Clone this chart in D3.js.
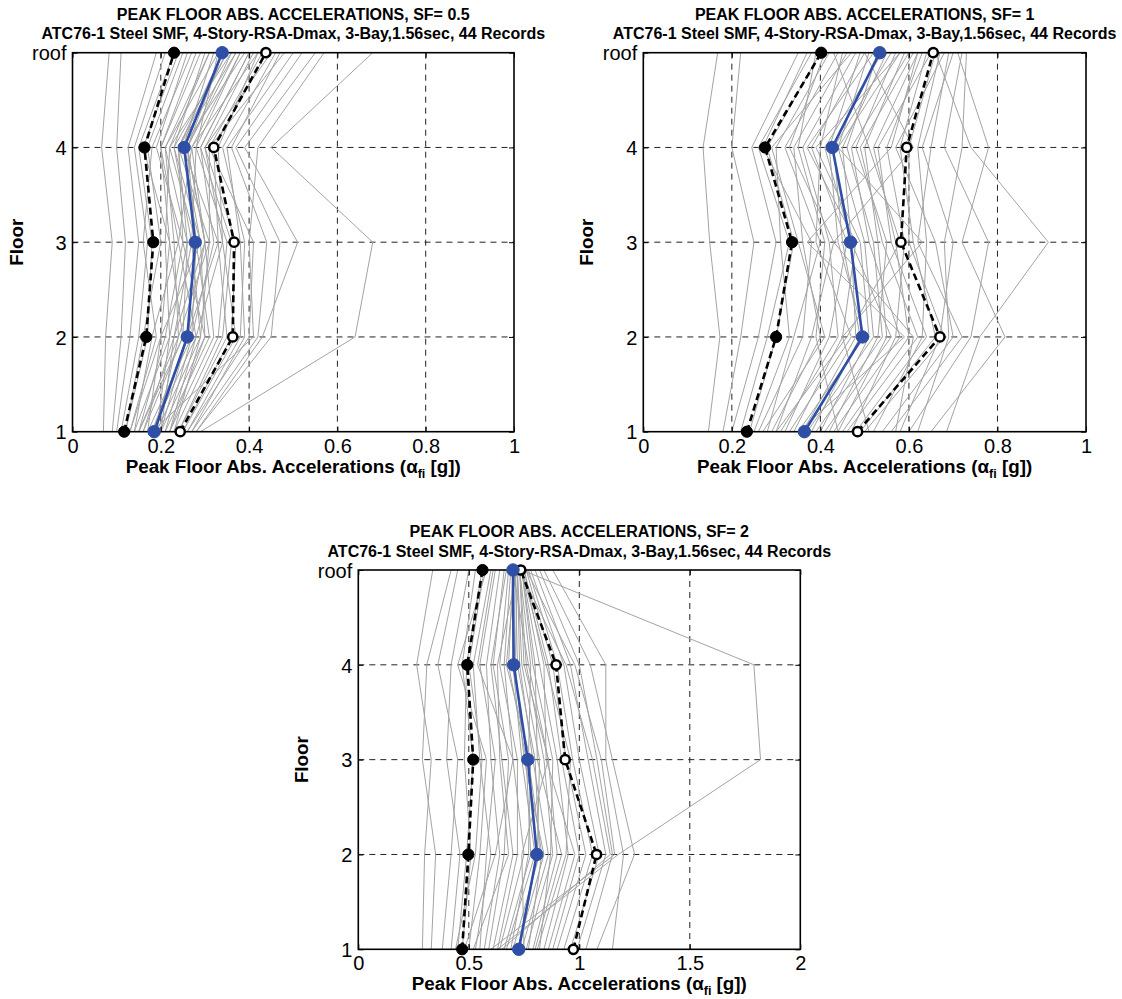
<!doctype html>
<html lang="en">
<head>
<meta charset="utf-8">
<title>Peak floor abs. accelerations</title>
<style>
  body { margin: 0; background: #fff; }
  svg { display: block; font-family: "Liberation Sans", Arial, Helvetica, sans-serif; }
  .title { font-weight: bold; font-size: 16px; text-anchor: middle; }
  .tick text { font-size: 20px; fill: #000; }
  .xlabel, .ylabel { font-weight: bold; font-size: 18.8px; }
</style>
</head>
<body>
<svg id="chart" width="1122" height="999"></svg>
<script src="https://cdn.jsdelivr.net/npm/d3@7"></script>
<script>
// floors, bottom to top
const floors = ["1", "2", "3", "4", "roof"];
const gridFloors = ["2", "3", "4"];

const titles = [
  "PEAK FLOOR ABS. ACCELERATIONS, SF= 0.5",
  "PEAK FLOOR ABS. ACCELERATIONS, SF= 1",
  "PEAK FLOOR ABS. ACCELERATIONS, SF= 2"
];
const subtitle = "ATC76-1 Steel SMF, 4-Story-RSA-Dmax, 3-Bay,1.56sec, 44 Records";

const xTicksSmall = [0, 0.2, 0.4, 0.6, 0.8, 1];
const xTicksLarge = [0, 0.5, 1, 1.5, 2];

// one row per record: [floor 1, 2, 3, 4, roof]
const sf05Records = [
  [0.07, 0.075, 0.09, 0.066, 0.083], [0.09, 0.11, 0.12, 0.10, 0.11], [0.10, 0.13, 0.15, 0.126, 0.19],
  [0.11, 0.15, 0.17, 0.14, 0.21], [0.12, 0.17, 0.18, 0.15, 0.23], [0.12, 0.16, 0.20, 0.17, 0.25],
  [0.13, 0.19, 0.16, 0.18, 0.27], [0.13, 0.20, 0.22, 0.16, 0.24], [0.14, 0.18, 0.24, 0.20, 0.29],
  [0.14, 0.22, 0.21, 0.22, 0.31], [0.15, 0.21, 0.25, 0.19, 0.26], [0.15, 0.24, 0.23, 0.21, 0.33],
  [0.16, 0.23, 0.27, 0.23, 0.30], [0.16, 0.25, 0.26, 0.24, 0.35], [0.17, 0.20, 0.29, 0.25, 0.32],
  [0.17, 0.27, 0.28, 0.22, 0.36], [0.18, 0.26, 0.30, 0.26, 0.34], [0.18, 0.28, 0.24, 0.27, 0.38],
  [0.19, 0.24, 0.31, 0.24, 0.37], [0.19, 0.29, 0.27, 0.28, 0.33], [0.20, 0.26, 0.33, 0.25, 0.39],
  [0.20, 0.30, 0.29, 0.23, 0.35], [0.21, 0.27, 0.32, 0.29, 0.40], [0.21, 0.31, 0.28, 0.26, 0.36],
  [0.22, 0.28, 0.34, 0.30, 0.41], [0.22, 0.32, 0.30, 0.27, 0.42], [0.23, 0.33, 0.35, 0.28, 0.38],
  [0.23, 0.29, 0.31, 0.31, 0.43], [0.24, 0.34, 0.36, 0.29, 0.40], [0.24, 0.35, 0.33, 0.32, 0.44],
  [0.25, 0.36, 0.37, 0.30, 0.45], [0.25, 0.37, 0.34, 0.33, 0.42], [0.26, 0.38, 0.39, 0.34, 0.46],
  [0.26, 0.40, 0.41, 0.31, 0.48], [0.27, 0.39, 0.38, 0.35, 0.50], [0.27, 0.42, 0.44, 0.36, 0.47],
  [0.28, 0.45, 0.47, 0.37, 0.52], [0.28, 0.43, 0.51, 0.39, 0.55], [0.29, 0.64, 0.68, 0.45, 0.68],
  [0.18, 0.41, 0.40, 0.42, 0.57], [0.15, 0.25, 0.22, 0.20, 0.28], [0.19, 0.22, 0.26, 0.21, 0.31],
  [0.22, 0.30, 0.25, 0.24, 0.34], [0.20, 0.23, 0.30, 0.26, 0.37]
];
const sf05Low = [0.117, 0.167, 0.183, 0.163, 0.23];
const sf05Median = [0.185, 0.26, 0.278, 0.253, 0.339];
const sf05High = [0.244, 0.363, 0.366, 0.32, 0.438];

const sf1Records = [
  [0.147, 0.173, 0.15, 0.135, 0.168], [0.18, 0.22, 0.25, 0.20, 0.22], [0.20, 0.26, 0.30, 0.245, 0.35],
  [0.22, 0.28, 0.33, 0.26, 0.38], [0.24, 0.30, 0.34, 0.28, 0.40], [0.25, 0.33, 0.31, 0.30, 0.42],
  [0.26, 0.36, 0.38, 0.27, 0.37], [0.28, 0.34, 0.40, 0.32, 0.44], [0.29, 0.40, 0.36, 0.34, 0.46],
  [0.30, 0.38, 0.43, 0.33, 0.41], [0.31, 0.44, 0.42, 0.36, 0.48], [0.32, 0.42, 0.46, 0.38, 0.50],
  [0.33, 0.47, 0.39, 0.40, 0.45], [0.34, 0.45, 0.48, 0.37, 0.52], [0.35, 0.50, 0.44, 0.42, 0.49],
  [0.36, 0.48, 0.47, 0.41, 0.54], [0.37, 0.52, 0.50, 0.44, 0.51], [0.38, 0.49, 0.45, 0.43, 0.56],
  [0.39, 0.54, 0.52, 0.46, 0.53], [0.40, 0.51, 0.49, 0.39, 0.58], [0.41, 0.56, 0.47, 0.45, 0.55],
  [0.42, 0.53, 0.55, 0.48, 0.57], [0.43, 0.58, 0.51, 0.47, 0.60], [0.44, 0.55, 0.53, 0.50, 0.59],
  [0.45, 0.60, 0.57, 0.52, 0.62], [0.46, 0.62, 0.54, 0.49, 0.61], [0.47, 0.57, 0.59, 0.55, 0.63],
  [0.48, 0.64, 0.56, 0.53, 0.65], [0.49, 0.66, 0.61, 0.58, 0.64], [0.50, 0.68, 0.60, 0.60, 0.66],
  [0.52, 0.63, 0.64, 0.62, 0.67], [0.54, 0.70, 0.66, 0.57, 0.68], [0.56, 0.72, 0.62, 0.65, 0.69],
  [0.58, 0.67, 0.70, 0.63, 0.70], [0.60, 0.74, 0.78, 0.68, 0.72], [0.62, 0.69, 0.68, 0.72, 0.73],
  [0.65, 0.817, 0.72, 0.78, 0.71], [0.685, 0.76, 0.915, 0.74, 0.66], [0.30, 0.46, 0.58, 0.51, 0.43],
  [0.27, 0.41, 0.35, 0.29, 0.47], [0.44, 0.39, 0.41, 0.35, 0.39], [0.35, 0.59, 0.37, 0.56, 0.62],
  [0.51, 0.45, 0.63, 0.44, 0.58], [0.57, 0.61, 0.43, 0.61, 0.50]
];
const sf1Low = [0.234, 0.30, 0.336, 0.275, 0.402];
const sf1Median = [0.364, 0.495, 0.468, 0.427, 0.534];
const sf1High = [0.484, 0.67, 0.582, 0.595, 0.655];

const sf2Records = [
  [0.29, 0.30, 0.33, 0.264, 0.337], [0.33, 0.35, 0.29, 0.31, 0.42], [0.38, 0.42, 0.45, 0.36, 0.45],
  [0.42, 0.46, 0.40, 0.42, 0.50], [0.45, 0.49, 0.52, 0.47, 0.53], [0.47, 0.51, 0.48, 0.49, 0.56],
  [0.50, 0.55, 0.58, 0.45, 0.58], [0.53, 0.60, 0.55, 0.52, 0.60], [0.55, 0.58, 0.62, 0.55, 0.62],
  [0.57, 0.64, 0.60, 0.58, 0.64], [0.59, 0.66, 0.68, 0.61, 0.66], [0.61, 0.70, 0.65, 0.60, 0.67],
  [0.63, 0.72, 0.72, 0.64, 0.68], [0.64, 0.75, 0.70, 0.66, 0.69], [0.66, 0.78, 0.76, 0.68, 0.70],
  [0.67, 0.80, 0.74, 0.70, 0.70], [0.69, 0.77, 0.78, 0.67, 0.71], [0.70, 0.82, 0.80, 0.72, 0.71],
  [0.72, 0.84, 0.75, 0.71, 0.72], [0.73, 0.81, 0.82, 0.74, 0.72], [0.74, 0.86, 0.79, 0.73, 0.72],
  [0.76, 0.88, 0.84, 0.76, 0.73], [0.77, 0.83, 0.77, 0.78, 0.73], [0.79, 0.90, 0.86, 0.75, 0.73],
  [0.80, 0.92, 0.81, 0.80, 0.74], [0.82, 0.87, 0.88, 0.79, 0.74], [0.84, 0.95, 0.90, 0.82, 0.74],
  [0.86, 0.98, 0.85, 0.84, 0.75], [0.88, 1.00, 0.92, 0.86, 0.75], [0.90, 1.03, 0.94, 0.88, 0.76],
  [0.93, 1.06, 0.97, 0.90, 0.77], [0.96, 1.09, 1.00, 0.93, 0.78], [0.99, 1.12, 1.04, 0.96, 0.80],
  [1.03, 1.15, 1.08, 1.00, 0.82], [1.08, 1.25, 1.15, 1.05, 0.84], [1.15, 1.20, 1.12, 1.12, 0.88],
  [0.63, 1.176, 1.82, 1.79, 0.74], [0.60, 1.16, 1.10, 0.98, 0.76], [0.65, 1.14, 1.06, 0.94, 0.73],
  [0.48, 0.62, 0.70, 0.54, 0.61], [0.52, 0.68, 0.64, 0.63, 0.72], [0.44, 0.53, 0.56, 0.50, 0.57],
  [0.75, 0.74, 0.86, 0.77, 0.70], [0.81, 0.94, 0.96, 0.85, 0.74]
];
const sf2Low = [0.47, 0.498, 0.52, 0.493, 0.562];
const sf2Median = [0.726, 0.808, 0.767, 0.703, 0.70];
const sf2High = [0.973, 1.078, 0.936, 0.895, 0.735];

// layout of the three panels (pixel boxes)
const panels = [
  { left: 72.5, top: 52.7, width: 441.5, height: 379, xMax: 1, ticks: xTicksSmall,
    title: titles[0], records: sf05Records, low: sf05Low, median: sf05Median, high: sf05High },
  { left: 643.3, top: 52.7, width: 442.7, height: 379, xMax: 1, ticks: xTicksSmall,
    title: titles[1], records: sf1Records, low: sf1Low, median: sf1Median, high: sf1High },
  { left: 358.3, top: 570, width: 442, height: 379.3, xMax: 2, ticks: xTicksLarge,
    title: titles[2], records: sf2Records, low: sf2Low, median: sf2Median, high: sf2High }
];

const svg = d3.select("#chart");
const BLUE = "#2f4fa6";

panels.forEach((p, i) => {
  const g = svg.append("g").attr("transform", `translate(${p.left},${p.top})`);
  const x = d3.scaleLinear().domain([0, p.xMax]).range([0, p.width]);
  const y = d3.scalePoint().domain(floors).range([p.height, 0]);
  const line = d3.line().x(d => x(d.v)).y(d => y(d.f));
  const toPts = arr => arr.map((v, k) => ({ v, f: floors[k] }));

  g.append("clipPath").attr("id", "clip" + i)
    .append("rect").attr("width", p.width).attr("height", p.height);

  // grid
  const grid = g.append("g").attr("stroke", "#222").attr("stroke-width", 1).attr("stroke-dasharray", "6,5");
  grid.selectAll("line.v").data(p.ticks.slice(1, -1)).enter().append("line")
    .attr("x1", d => x(d)).attr("x2", d => x(d)).attr("y1", 0).attr("y2", p.height);
  grid.selectAll("line.h").data(gridFloors).enter().append("line")
    .attr("x1", 0).attr("x2", p.width).attr("y1", d => y(d)).attr("y2", d => y(d));

  const plot = g.append("g").attr("clip-path", `url(#clip${i})`);
  plot.selectAll("path.rec").data(p.records).enter().append("path")
    .attr("d", r => line(toPts(r)))
    .attr("fill", "none").attr("stroke", "#a3a3a3").attr("stroke-width", 1);

  // axes with inward ticks
  const xAxis = d3.axisBottom(x).tickValues(p.ticks).tickSize(-5).tickFormat(d3.format("~g"));
  const xAxisTop = d3.axisTop(x).tickValues(p.ticks).tickSize(-5).tickFormat("");
  const yAxis = d3.axisLeft(y).tickSize(-5);
  const yAxisRight = d3.axisRight(y).tickSize(-5).tickFormat("");
  const gx = g.append("g").attr("transform", `translate(0,${p.height})`).call(xAxis);
  g.append("g").call(xAxisTop);
  const gy = g.append("g").call(yAxis);
  g.append("g").attr("transform", `translate(${p.width},0)`).call(yAxisRight);
  g.selectAll(".domain").remove();
  g.selectAll(".tick line").attr("stroke", "#000");
  gx.selectAll(".tick text").attr("dy", null).attr("y", 21);
  gy.selectAll(".tick text").attr("x", -6).attr("dy", "0.36em");

  g.append("rect").attr("width", p.width).attr("height", p.height)
    .attr("fill", "none").attr("stroke", "#000").attr("stroke-width", 1.6);

  // statistics
  const stats = g.append("g");
  const drawStat = (arr, color, dash, markerFill, r, sw) => {
    stats.append("path").attr("d", line(toPts(arr))).attr("fill", "none")
      .attr("stroke", color).attr("stroke-width", 2.6).attr("stroke-dasharray", dash);
    stats.selectAll(null).data(toPts(arr)).enter().append("circle")
      .attr("cx", d => x(d.v)).attr("cy", d => y(d.f)).attr("r", r)
      .attr("fill", markerFill).attr("stroke", color).attr("stroke-width", sw);
  };
  drawStat(p.low, "#000", "7,4", "#000", 5.6, 1);
  drawStat(p.high, "#000", "7,4", "#fff", 4.6, 2.5);
  drawStat(p.median, BLUE, null, BLUE, 6.2, 1);

  // titles and labels
  const cx = p.width / 2;
  g.append("text").attr("class", "title").attr("x", cx).attr("y", -33).text(p.title);
  g.append("text").attr("class", "title").attr("x", cx).attr("y", -13.5).text(subtitle);

  const xl = g.append("text").attr("class", "xlabel").attr("x", cx).attr("y", p.height + 41)
    .attr("text-anchor", "middle");
  xl.append("tspan").text("Peak Floor Abs. Accelerations (");
  xl.append("tspan").text("\u03b1");
  xl.append("tspan").attr("font-size", "12.5px").attr("dy", 5).text("fi");
  xl.append("tspan").attr("dy", -5).text(" [g])");

  g.append("text").attr("class", "ylabel").attr("text-anchor", "middle")
    .attr("transform", `translate(-50,${p.height / 2}) rotate(-90)`).text("Floor");
});
</script>
</body>
</html>
